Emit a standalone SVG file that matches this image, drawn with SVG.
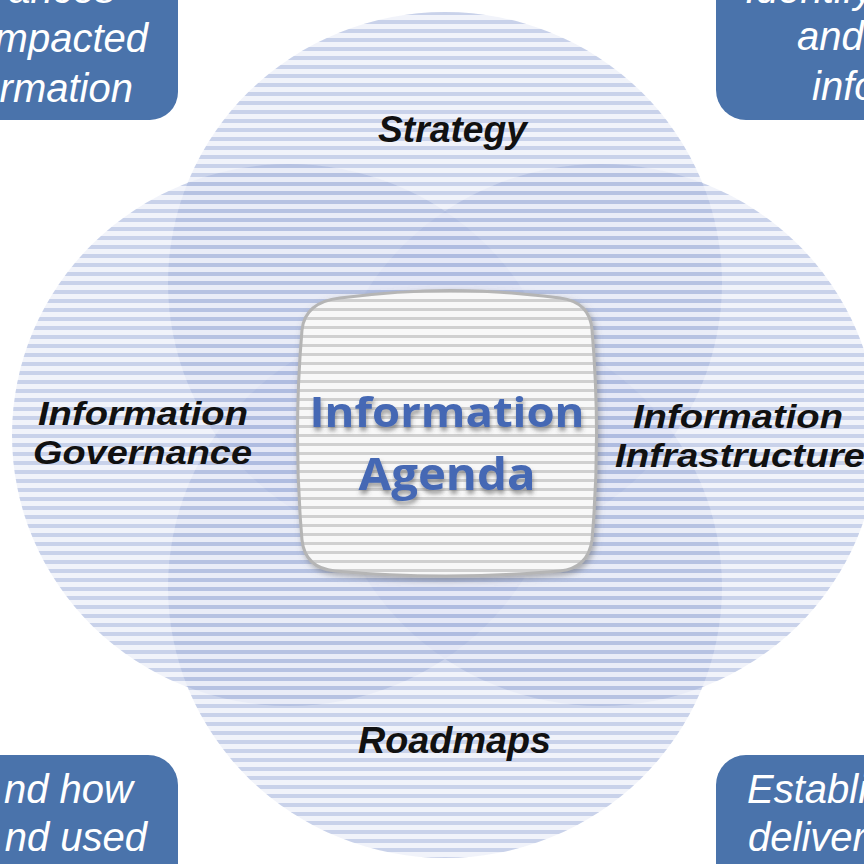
<svg xmlns="http://www.w3.org/2000/svg" width="864" height="864" viewBox="0 0 864 864">
<defs>
<pattern id="blueStripes" patternUnits="userSpaceOnUse" width="20" height="9"><rect y="2" width="20" height="4" fill="#7f95cc"/></pattern>
<pattern id="grayStripes" patternUnits="userSpaceOnUse" width="20" height="9"><rect width="20" height="9" fill="#f8f8f8"/><rect y="2" width="20" height="3" fill="#d0d0d0"/></pattern>
<filter id="textShadow" x="-10%" y="-30%" width="120%" height="160%"><feDropShadow dx="1" dy="4" stdDeviation="2" flood-color="#444" flood-opacity="0.5"/></filter>
<filter id="boxShadow" x="-10%" y="-10%" width="120%" height="120%"><feDropShadow dx="2" dy="3" stdDeviation="3" flood-color="#666" flood-opacity="0.5"/></filter>
</defs>
<style>
.base{fill:#dfe5f3;opacity:.45}
.stripe{fill:url(#blueStripes);opacity:.35}
.label{font-family:"Liberation Sans",Arial,sans-serif;font-weight:bold;font-style:italic;fill:#111}
.box{fill:#4a73ab}
.boxtext{font-family:"Liberation Sans",Arial,sans-serif;font-style:italic;font-size:40px;fill:#fff}
.center{font-family:"Open Sans","Noto Sans",sans-serif;font-weight:bold;fill:#4468b4;text-anchor:middle}
</style>
<rect width="864" height="864" fill="#fff"/>
<g id="circle-strategy">
<ellipse class="base" cx="445" cy="283" rx="277" ry="271"/>
<ellipse class="stripe" cx="445" cy="283" rx="277" ry="271"/>
</g>
<g id="circle-governance">
<ellipse class="base" cx="289" cy="435" rx="277" ry="271"/>
<ellipse class="stripe" cx="289" cy="435" rx="277" ry="271"/>
</g>
<g id="circle-infrastructure">
<ellipse class="base" cx="601" cy="435" rx="277" ry="271"/>
<ellipse class="stripe" cx="601" cy="435" rx="277" ry="271"/>
</g>
<g id="circle-roadmaps">
<ellipse class="base" cx="445" cy="587" rx="277" ry="271"/>
<ellipse class="stripe" cx="445" cy="587" rx="277" ry="271"/>
</g>
<g id="labels">
<text class="label" x="378" y="142" font-size="37" textLength="149" lengthAdjust="spacingAndGlyphs">Strategy</text>
<text class="label" x="38" y="425" font-size="34" textLength="210" lengthAdjust="spacingAndGlyphs">Information</text>
<text class="label" x="33" y="464" font-size="34" textLength="219" lengthAdjust="spacingAndGlyphs">Governance</text>
<text class="label" x="633" y="428" font-size="34" textLength="210" lengthAdjust="spacingAndGlyphs">Information</text>
<text class="label" x="615" y="467" font-size="34" textLength="250" lengthAdjust="spacingAndGlyphs">Infrastructure</text>
<text class="label" x="358" y="753" font-size="37" textLength="193" lengthAdjust="spacingAndGlyphs">Roadmaps</text>
</g>
<g id="center-agenda">
<path d="M 340 298 C 420 288, 480 288, 560 298 Q 590 302 592 330 C 598 400, 598 470, 592 540 Q 588 568 560 571 C 480 578, 410 578, 335 571 Q 305 568 302 540 C 296 470, 296 400, 302 330 Q 305 302 340 298 Z" fill="url(#grayStripes)" stroke="#b5b5b5" stroke-width="3" filter="url(#boxShadow)"/>
<g filter="url(#textShadow)">
<text class="center" x="447" y="427" font-size="42" textLength="275" lengthAdjust="spacingAndGlyphs">Information</text>
<text class="center" x="447" y="490" font-size="44" textLength="177" lengthAdjust="spacingAndGlyphs">Agenda</text>
</g>
</g>
<g id="box-top-left">
<rect class="box" x="-200" y="-40" width="378" height="160" rx="28"/>
<text class="boxtext" x="115" y="3" text-anchor="end">ances</text>
<text class="boxtext" x="148" y="52" text-anchor="end">mpacted</text>
<text class="boxtext" x="133" y="102" text-anchor="end">rmation</text>
</g>
<g id="box-top-right">
<rect class="box" x="716" y="-40" width="360" height="160" rx="30"/>
<text class="boxtext" x="745" y="3">Identify</text>
<text class="boxtext" x="797" y="50">and</text>
<text class="boxtext" x="812" y="100">information</text>
</g>
<g id="box-bottom-left">
<rect class="box" x="-200" y="755" width="378" height="160" rx="30"/>
<text class="boxtext" x="133" y="803" text-anchor="end">nd how</text>
<text class="boxtext" x="147" y="851" text-anchor="end">nd used</text>
</g>
<g id="box-bottom-right">
<rect class="box" x="716" y="755" width="360" height="160" rx="30"/>
<text class="boxtext" x="747" y="803">Establish</text>
<text class="boxtext" x="748" y="851">deliver</text>
</g>
</svg>
